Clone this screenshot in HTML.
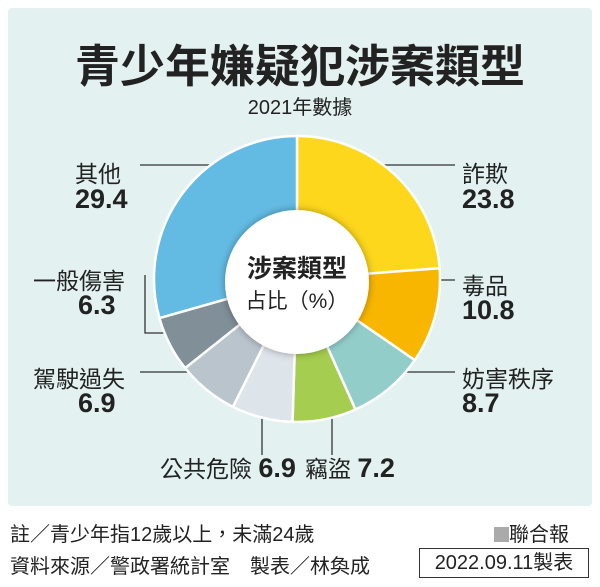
<!DOCTYPE html>
<html><head><meta charset="utf-8"><style>
body{margin:0;width:600px;height:587px;background:#fff;position:relative;overflow:hidden;font-family:"Liberation Sans","Noto Sans CJK TC",sans-serif;color:#222}
.p{position:absolute;left:8px;top:8px;width:584px;height:498px;background:#e3f1f1;border-radius:4px}
.t{position:absolute;white-space:nowrap}
.b{font-weight:bold}
.l{font-size:23px}
.n{font-size:27px;font-weight:bold}
</style></head><body>
<div class="p"></div>
<div class="t b" style="left:0;width:600px;text-align:center;top:30px;font-size:45px">青少年嫌疑犯涉案類型</div>
<div class="t" style="left:0;width:600px;text-align:center;top:91px;font-size:20px">2021年數據</div>
<svg width="600" height="587" style="position:absolute;left:0;top:0">
<defs><filter id="s"><feDropShadow dx="0" dy="0" stdDeviation="4" flood-opacity="0.35"/></filter></defs>
<g stroke="#333" stroke-width="1.3" fill="none">
<line x1="140" y1="165" x2="215" y2="165"/>
<line x1="380" y1="165" x2="455" y2="165"/>
<line x1="435" y1="280" x2="455" y2="280"/>
<line x1="400" y1="372" x2="455" y2="372"/>
<polyline points="145,275 145,333 170,333"/>
<line x1="140" y1="372" x2="190" y2="372"/>
<line x1="262" y1="410" x2="262" y2="455"/>
<line x1="332" y1="410" x2="332" y2="455"/>
</g>
<g id="pie" stroke="#fff" stroke-width="2.5"></g>
<circle cx="297" cy="282" r="72" fill="#fff" filter="url(#s)"/>
<text x="297" y="277" text-anchor="middle" font-size="25" font-weight="bold" fill="#222" font-family="Liberation Sans,Noto Sans CJK TC,sans-serif">涉案類型</text>
<text x="297" y="308" text-anchor="middle" font-size="21" fill="#222" font-family="Liberation Sans,Noto Sans CJK TC,sans-serif">占比（%）</text>
</svg>
<script>
var d=[[23.8,"#fdd71c"],[10.8,"#f8b600"],[8.7,"#93cdca"],[7.2,"#a5cd4f"],[6.9,"#dde4ea"],[6.9,"#bac4cc"],[6.3,"#808f98"],[29.4,"#63bbe3"]];
var cx=297,cy=279,R=143,a=0,h="";
d.forEach(function(e){var b=a+e[0]/100*2*Math.PI;
var x1=cx+R*Math.sin(a),y1=cy-R*Math.cos(a),x2=cx+R*Math.sin(b),y2=cy-R*Math.cos(b);
h+='<path d="M'+cx+','+cy+'L'+x1+','+y1+'A'+R+','+R+' 0 '+(b-a>Math.PI?1:0)+' 1 '+x2+','+y2+'Z" fill="'+e[1]+'"/>';a=b;});
document.getElementById("pie").innerHTML=h;
</script>
<div class="t l" style="left:75px;top:155px">其他</div>
<div class="t n" style="left:75px;top:184px">29.4</div>
<div class="t l" style="left:462px;top:155px">詐欺</div>
<div class="t n" style="left:462px;top:184px">23.8</div>
<div class="t l" style="left:462px;top:267px">毒品</div>
<div class="t n" style="left:462px;top:295px">10.8</div>
<div class="t l" style="left:462px;top:360px">妨害秩序</div>
<div class="t n" style="left:462px;top:388px">8.7</div>
<div class="t l" style="left:33px;top:262px">一般傷害</div>
<div class="t n" style="left:78px;top:290px">6.3</div>
<div class="t l" style="left:33px;top:360px">駕駛過失</div>
<div class="t n" style="left:78px;top:388px">6.9</div>
<div class="t l" style="left:160px;top:450px">公共危險 <span class="n">6.9</span></div>
<div class="t l" style="left:305px;top:450px">竊盜 <span class="n">7.2</span></div>
<div class="t" style="left:10px;top:518px;font-size:20px">註／青少年指12歲以上，未滿24歲</div>
<div class="t" style="left:10px;top:550px;font-size:20px">資料來源／警政署統計室　製表／林奐成</div>
<div class="t" style="left:494px;top:518px;font-size:20px"><span style="display:inline-block;width:15px;height:15px;background:#aaa;vertical-align:-1px"></span>聯合報</div>
<div class="t" style="left:419px;top:548px;width:168px;height:28px;border:1px solid #333;font-size:20px;text-align:center;line-height:28px">2022.09.11製表</div>
</body></html>
